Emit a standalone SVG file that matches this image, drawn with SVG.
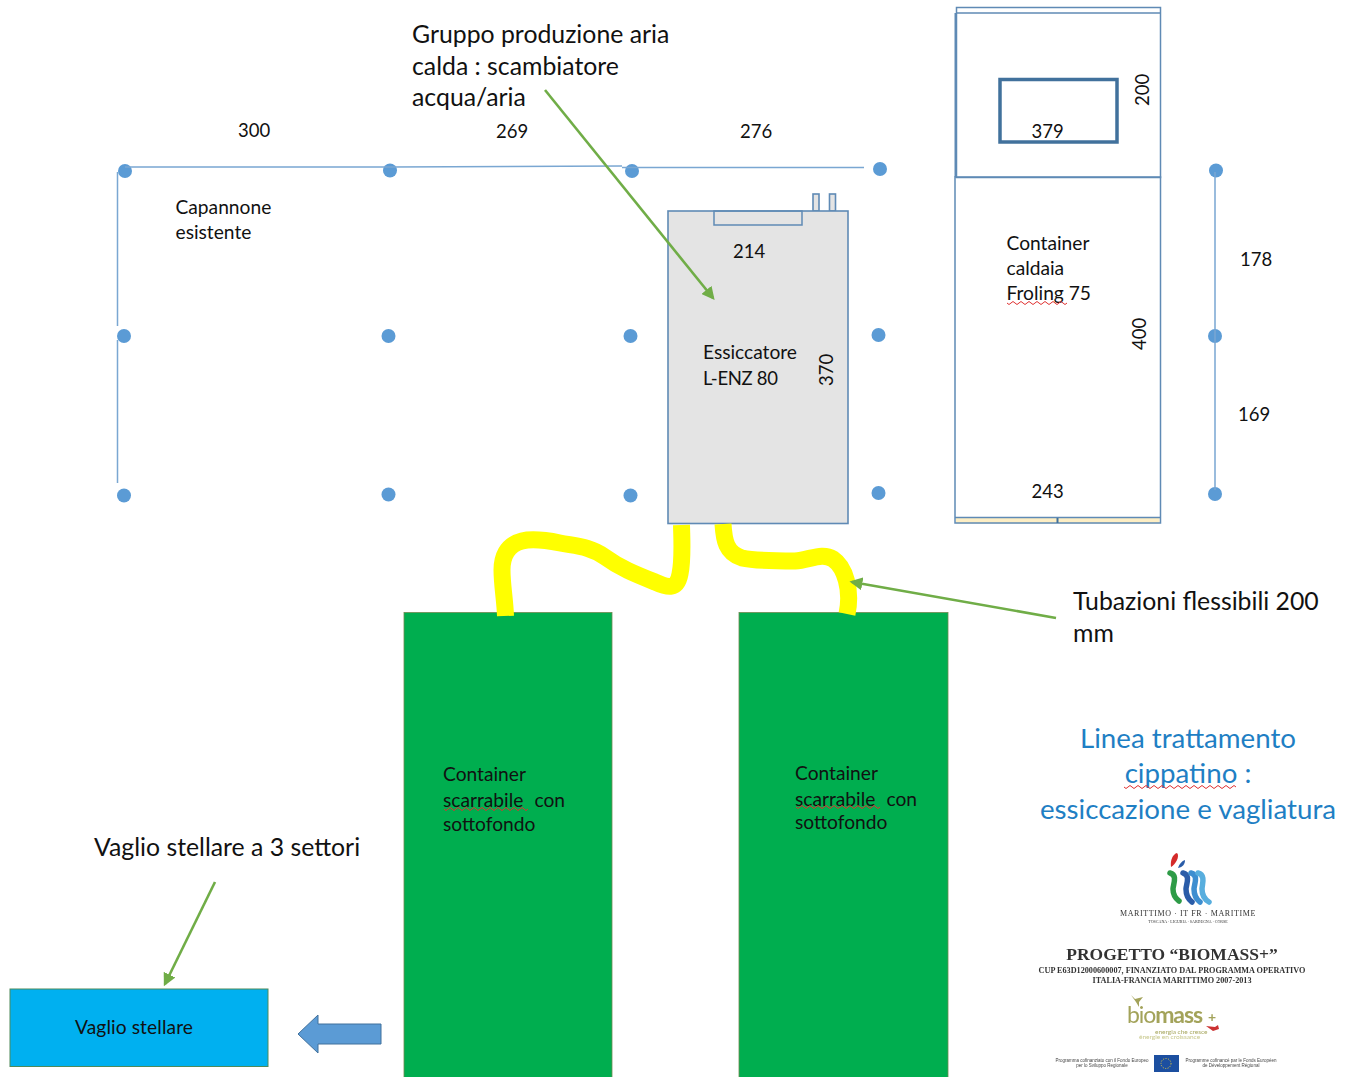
<svg xmlns="http://www.w3.org/2000/svg" width="1356" height="1077" viewBox="0 0 1356 1077">
<defs>
<style>
text{font-family:Lato,"Liberation Sans",sans-serif;fill:#111}
.n{font-size:18.500px}
.s{font-size:19.200px}
.m{font-size:24.800px}
.b{font-size:27.700px;fill:#1f7fc4;text-anchor:middle}
.dot{fill:#5b9bd5}
.ln{stroke:#7aa7d2;stroke-width:1.5;fill:none}
.box{stroke:#5f8ab5;stroke-width:1.500;fill:none}
.grey{fill:#e4e4e4;stroke:#5f8ab5;stroke-width:1.600}
.green{fill:#00ae4f;stroke:#6f8a50;stroke-width:.8}
.arr{stroke:#70ad47;stroke-width:2.600;fill:none;marker-end:url(#ah)}
.hose{stroke:#ffff00;stroke-width:17;fill:none}
.sq{stroke:#e03030;stroke-width:1;fill:none}
.wave{fill:none;stroke-width:5.500;stroke-linecap:round}
.lg{font-family:"Liberation Serif",serif;fill:#333;text-anchor:middle}
.sm{font-family:"Liberation Sans",sans-serif;fill:#444;text-anchor:middle;font-size:4.500px}
</style>
<marker id="ah" markerWidth="5" markerHeight="5" refX="4" refY="2.500" orient="auto"><path d="M0 0L5 2.500L0 5Z" fill="#70ad47"/></marker>
<filter id="soft" x="-5%" y="-5%" width="110%" height="110%"><feGaussianBlur stdDeviation=".45"/></filter>
</defs>
<g id="columns">
<circle class="dot" cx="125" cy="171" r="7"/><circle class="dot" cx="390" cy="170.500" r="7"/><circle class="dot" cx="632" cy="171" r="7"/><circle class="dot" cx="880" cy="169" r="7"/><circle class="dot" cx="1216" cy="170.500" r="7"/>
<circle class="dot" cx="124" cy="336" r="7"/><circle class="dot" cx="388.500" cy="336" r="7"/><circle class="dot" cx="630.500" cy="336" r="7"/><circle class="dot" cx="878.500" cy="335" r="7"/><circle class="dot" cx="1215" cy="336" r="7"/>
<circle class="dot" cx="124" cy="495.500" r="7"/><circle class="dot" cx="388.500" cy="494.500" r="7"/><circle class="dot" cx="630.500" cy="495.500" r="7"/><circle class="dot" cx="878.500" cy="493" r="7"/><circle class="dot" cx="1215" cy="494" r="7"/>
</g>
<g id="labels">
<text class="n" x="238" y="137">300</text><text class="n" x="496" y="138">269</text><text class="n" x="740" y="138">276</text>
<text class="s" x="175.500" y="213.500">Capannone</text><text class="s" x="175.500" y="238.500">esistente</text>
<text class="n" x="1240" y="266">178</text><text class="n" x="1238" y="421">169</text>
<text class="m" x="412" y="42.500">Gruppo produzione aria</text><text class="m" x="412" y="74.500">calda : scambiatore</text><text class="m" x="412" y="105.500">acqua/aria</text>
<text class="m" x="1073" y="609.500">Tubazioni flessibili 200</text><text class="m" x="1073" y="642">mm</text>
<text class="m" x="94" y="855.500">Vaglio stellare a 3 settori</text>
</g>
<g id="essiccatore">
<rect class="grey" x="813" y="194" width="6" height="17"/><rect class="grey" x="829.500" y="194" width="6" height="17"/>
<rect class="grey" x="668" y="211" width="180" height="312.500"/>
<rect class="box" x="714" y="211" width="88" height="14"/>
<text class="n" x="733" y="258">214</text>
<text class="s" x="703" y="359" textLength="94">Essiccatore</text><text class="n" x="703" y="384.500" textLength="75">L-ENZ 80</text>
<text class="n" transform="translate(833 386) rotate(-90)">370</text>
</g>
<g id="container-caldaia">
<rect x="956" y="517.500" width="203.500" height="6" fill="#fdeec4"/>
<rect class="box" x="956.500" y="7.500" width="204" height="170"/>
<path class="box" d="M956.500 13H1160.500"/>
<path d="M955.500 13V177" stroke="#5f8ab5" stroke-width="2" fill="none"/>
<rect class="box" x="955" y="177" width="205.500" height="346"/>
<path d="M955 517.500H1160" stroke="#5f8ab5" stroke-width="1.500" fill="none"/>
<path d="M1057.500 518V523" stroke="#41719c" stroke-width="2"/>
<rect x="1000" y="79.500" width="117" height="62.500" fill="none" stroke="#41719c" stroke-width="3.500"/>
<text class="n" x="1031.500" y="138">379</text>
<text class="n" transform="translate(1149 106) rotate(-90)">200</text>
<text class="s" x="1006.500" y="250">Container</text><text class="s" x="1006.500" y="275">caldaia</text><text class="s" x="1006.500" y="299.500">Froling 75</text>
<path class="sq" d="M1007 303q2 3 4 0t4 0t4 0t4 0t4 0t4 0t4 0t4 0t4 0t4 0t4 0t4 0t4 0t4 0t4 0"/>
<text class="n" transform="translate(1146 350) rotate(-90)">400</text>
<text class="n" x="1031.500" y="498">243</text>
</g>
<g id="container-1">
<rect class="green" x="404" y="612.500" width="208" height="470"/>
<text class="s" x="443" y="780.500">Container</text><text class="s" x="443" y="806.500">scarrabile</text><text class="s" x="534.500" y="806.500">con</text><text class="s" x="443" y="830.500">sottofondo</text>
<path class="sq" d="M444 809q2 3 4 0t4 0t4 0t4 0t4 0t4 0t4 0t4 0t4 0t4 0t4 0t4 0t4 0t4 0t4 0t4 0t4 0t4 0t4 0t4 0t4 0"/>
</g>
<g id="container-2">
<rect class="green" x="739" y="612.500" width="209" height="470"/>
<text class="s" x="795" y="779.500">Container</text><text class="s" x="795" y="805.500">scarrabile</text><text class="s" x="886.500" y="805.500">con</text><text class="s" x="795" y="828.500">sottofondo</text>
<path class="sq" d="M796 807q2 3 4 0t4 0t4 0t4 0t4 0t4 0t4 0t4 0t4 0t4 0t4 0t4 0t4 0t4 0t4 0t4 0t4 0t4 0t4 0t4 0t4 0"/>
</g>
<g id="hoses">
<path class="hose" d="M681.500 525C682 545 683 560 680 574C677 590 668 588 655 582C635 574 620 568 605 557C590 546 575 546 560 543C545 540 530 539 522 541C506 545 502 558 502 570C502 585 505 600 505.500 616"/>
<path class="hose" d="M723 524C724 540 726 553 742 558C755 561 775 561 795 561C810 560 822 552 833 559C845 567 852 590 847 614"/>
</g>
<g id="vaglio">
<rect x="10" y="989" width="258" height="77.500" fill="#00b0f0" stroke="#4f8a5a" stroke-width="1"/>
<text class="s" x="75" y="1033.500" textLength="118">Vaglio stellare</text>
</g>
<g id="arrow-left">
<path d="M381 1024H318V1015L298 1034L318 1053V1044H381Z" fill="#5b9bd5" stroke="#41719c" stroke-width="1"/>
</g>
<g id="title">
<text class="b" x="1188" y="747.500">Linea trattamento</text><text class="b" x="1188" y="783">cippatino :</text><text class="b" x="1188" y="818.500">essiccazione e vagliatura</text>
<path class="sq" d="M1124 787q2 3 4 0t4 0t4 0t4 0t4 0t4 0t4 0t4 0t4 0t4 0t4 0t4 0t4 0t4 0t4 0t4 0t4 0t4 0t4 0t4 0t4 0t4 0t4 0t4 0t4 0t4 0t4 0t4 0"/>
</g>
<g id="logos" filter="url(#soft)">
<path d="M1171 867C1170 860 1173 854 1177 853C1180 856 1176 864 1171 867Z" fill="#d42a2a"/>
<path d="M1178 868C1179 864 1182 861 1185 860C1185 864 1183 867 1178 868Z" fill="#2a5ca8"/>
<path class="wave" stroke="#2f9b47" d="M1170 873C1178 875 1173 885 1173 889C1173 895 1175 898 1179 901"/>
<path class="wave" stroke="#2a5ca8" d="M1183 873C1191 875 1186 885 1186 889C1186 895 1188 899 1192 902"/>
<path class="wave" stroke="#3d8ed0" d="M1191 873C1199 875 1194 885 1194 889C1194 895 1196 899 1200 902"/>
<path class="wave" stroke="#58aede" d="M1198 873C1206 875 1202 885 1202 889C1202 895 1204 899 1209 902"/>
<text class="lg" x="1188" y="916" font-size="8" letter-spacing=".6">MARITTIMO · IT FR · MARITIME</text>
<text class="lg" x="1188" y="923" font-size="4">TOSCANA · LIGURIA · SARDEGNA · CORSE</text>
<text class="lg" x="1172" y="960" font-size="17.500" font-weight="bold">PROGETTO “BIOMASS+”</text>
<text class="lg" x="1172" y="973" font-size="8.200" font-weight="bold">CUP E63D12000600007, FINANZIATO DAL PROGRAMMA OPERATIVO</text>
<text class="lg" x="1172" y="983" font-size="8.200" font-weight="bold">ITALIA-FRANCIA MARITTIMO 2007-2013</text>
<path d="M1131 995l4 4 8-2-4 5 0 5-3-5z" fill="#a3a35a"/>
<text x="1127" y="1023" style="font-family:Lato,sans-serif;fill:#a3a35a" font-size="23" textLength="76">bio<tspan font-weight="bold">mass</tspan></text>
<text x="1208" y="1022" style="font-family:Lato,sans-serif;fill:#a3a35a" font-size="14" font-weight="bold">+</text>
<path d="M1206 1026l9 1 3-2 1 4-6 2z" fill="#c33"/>
<text x="1155" y="1033.500" style="font-family:Lato,sans-serif;fill:#a8a860" font-size="6.500">energia che cresce</text>
<text x="1139" y="1039" style="font-family:Lato,sans-serif;fill:#c8c88c" font-size="6.500">énergie en croissance</text>
<text class="sm" x="1102" y="1062">Programma cofinanziato con il Fondo Europeo</text>
<text class="sm" x="1102" y="1067">per lo Sviluppo Regionale</text>
<rect x="1154" y="1055" width="25" height="17" fill="#1f4fa0"/>
<circle cx="1166" cy="1063.500" r="5" fill="none" stroke="#e6d23a" stroke-width="1" stroke-dasharray="1 1.500"/>
<text class="sm" x="1231" y="1062">Programme cofinancé par le Fonds Européen</text>
<text class="sm" x="1231" y="1067">de Développement Régional</text>
</g>
<g id="connectors">
<path class="ln" d="M125 167H390L622 166M622 167.500H864M117.500 172V326M117.500 340V483M1215 172V490"/>
<path class="arr" d="M545 90L713 298"/>
<path class="arr" d="M1056 618L852 582"/>
<path class="arr" d="M215 882L165 984"/>
</g>
</svg>
